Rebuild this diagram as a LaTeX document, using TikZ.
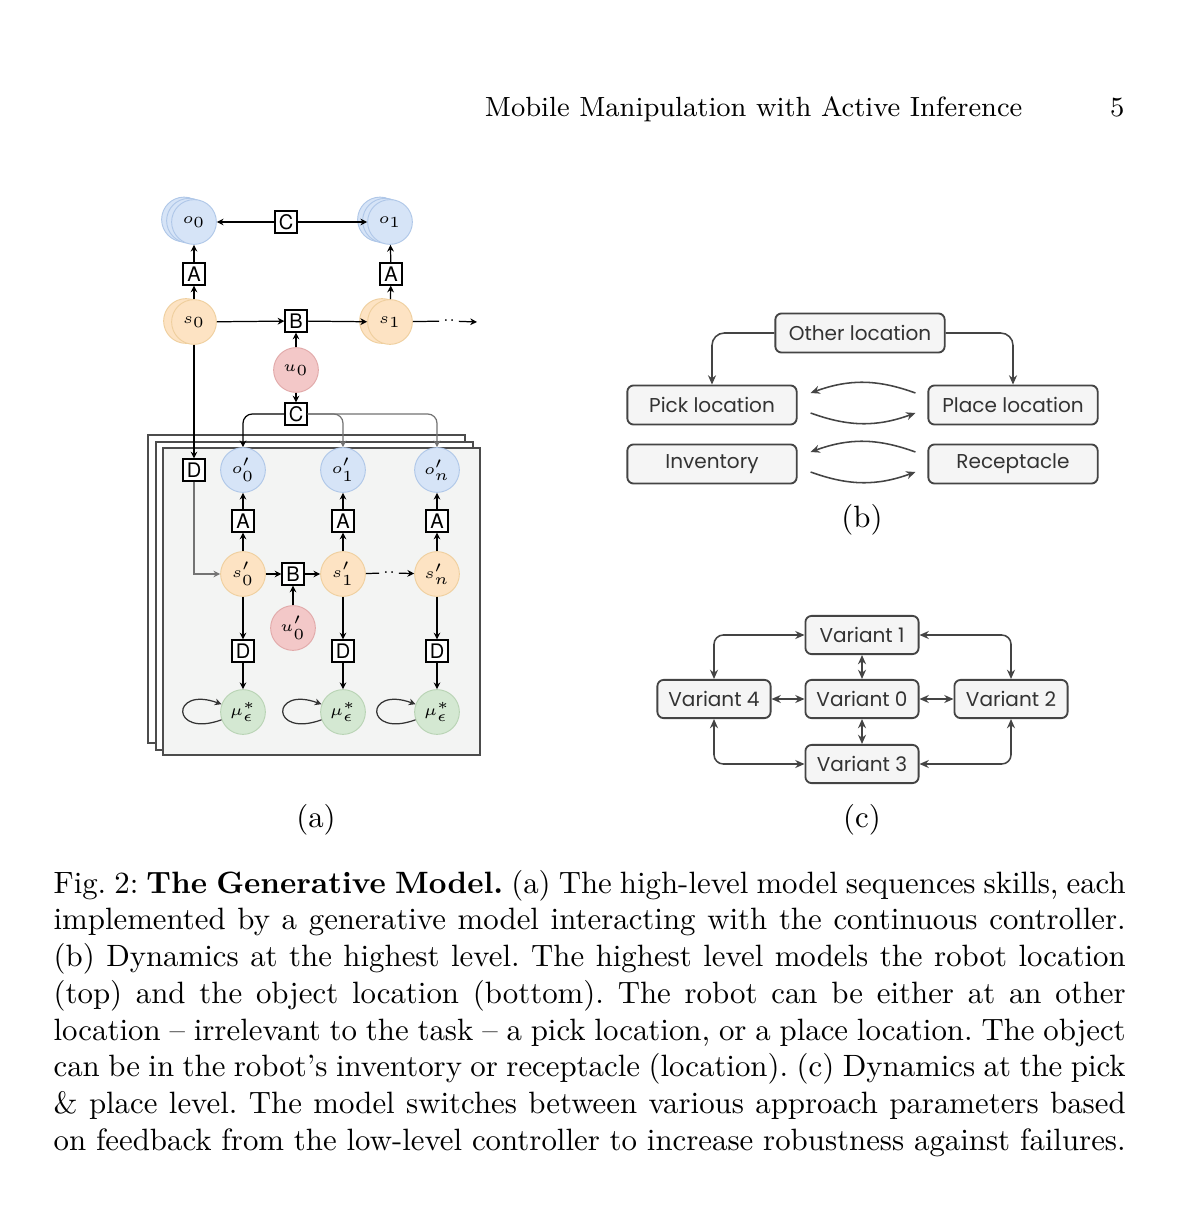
\documentclass[tikz,border=0pt]{standalone}
\usepackage{fontspec}
\setsansfont{TeX Gyre Heros}
\newfontfamily\popfont{Poppins}
\usetikzlibrary{arrows.meta}
\frenchspacing

\definecolor{obsblue}{HTML}{D6E4F7}
\definecolor{obsedge}{HTML}{AFC7E8}
\definecolor{hidorange}{HTML}{FDE3C3}
\definecolor{hidedge}{HTML}{EFCF9E}
\definecolor{actred}{HTML}{F3C8C8}
\definecolor{actedge}{HTML}{E1A9A9}
\definecolor{belgreen}{HTML}{D4E8D2}
\definecolor{beledge}{HTML}{B8D3B4}
\definecolor{panelgray}{HTML}{F3F4F3}
\definecolor{boxgray}{HTML}{F5F5F5}
\definecolor{linegray}{HTML}{444444}

\tikzset{
  var/.style={circle, minimum size=0.51cm, inner sep=0pt, font=\tiny, line width=0.3pt},
  obs/.style={var, fill=obsblue, draw=obsedge},
  hid/.style={var, fill=hidorange, draw=hidedge},
  act/.style={var, fill=actred, draw=actedge},
  bel/.style={var, fill=belgreen, draw=beledge},
  fac/.style={draw, fill=white, minimum size=0.25cm, inner sep=0pt, line width=0.4pt,
    font=\sffamily\fontsize{6.5}{7}\selectfont},
  lnk/.style={line width=0.4pt, -{Stealth[length=2.2pt,width=2.2pt]}},
  panel/.style={draw=black!70, line width=0.35pt, fill=white},
  loc/.style={draw=linegray, fill=boxgray, rounded corners=2pt, line width=0.6pt,
    text=black!80, font=\popfont\fontsize{6.5}{8}\selectfont, inner sep=0pt},
  place box/.style={loc, minimum width=1.93cm, minimum height=0.445cm},
  variant box/.style={loc, minimum width=1.29cm, minimum height=0.435cm},
  oneway/.style={draw=linegray, line width=0.5pt, -{Stealth[length=3pt,width=2.6pt]}},
  twoway/.style={draw=linegray, line width=0.5pt, rounded corners=3pt,
    {Stealth[length=3pt,width=2.6pt]}-{Stealth[length=3pt,width=2.6pt]}},
}

\begin{document}
\begin{tikzpicture}[x=0.0114cm, y=-0.0114cm]
  \fill[white] (0,0) rectangle (1200,1214);
  \useasboundingbox (0,0) rectangle (1200,1214);

  % running head
  \node[anchor=base east, font=\small, inner sep=0pt] (head) at (1023,117) {Mobile Manipulation with Active Inference};
  \node[anchor=base east, font=\small, inner sep=0pt] (page) at (1125,117) {5};

  % (a) high level
  \foreach \d in {10,5} {
    \node[obs] (o0b\d) at (194-\d,222-\d/4) {};
    \node[obs] (o1b\d) at (390-\d,222-\d/4) {};
  }
  \node[obs] (o0) at (194,222) {$o_0$};
  \node[obs] (o1) at (390,222) {$o_1$};
  \node[fac] (Ctop) at (286,222) {C};
  \node[fac] (A0) at (194,274) {A};
  \node[fac] (A1) at (391,274) {A};
  \node[hid] (s0b) at (186,321) {};
  \node[hid] (s1b) at (382,321) {};
  \node[hid] (s0) at (194,322) {$s_0$};
  \node[hid] (s1) at (390,322) {$s_1$};
  \node[fac] (B0) at (296,321) {B};
  \node[act] (u0) at (296,370) {$u_0$};
  \node[fac] (Clow) at (296,414) {C};
  \node[font=\tiny, inner sep=1pt] (dots) at (449,321) {..};
  \coordinate (dotsend) at (477,322);

  \draw[lnk] (Ctop) -- (o0);
  \draw[lnk] (Ctop) -- (o1);
  \draw[lnk] (s0) -- (A0);
  \draw[lnk] (A0) -- (o0);
  \draw[lnk] (s1) -- (A1);
  \draw[lnk] (A1) -- (o1);
  \draw[lnk] (s0) -- (B0);
  \draw[lnk] (B0) -- (s1);
  \draw[lnk] (u0) -- (B0);
  \draw[lnk] (u0) -- (Clow);
  \draw[line width=0.4pt] (s1) -- (dots);
  \draw[lnk] (dots) -- (dotsend);

  % (a) skill level
  \draw[panel] (148,435) rectangle (465,743);
  \draw[panel] (156,442) rectangle (473,750);
  \draw[panel, fill=panelgray] (163,448) rectangle (480,755);

  \node[fac] (D0) at (194,470) {D};
  \foreach \x/\idx in {243/0, 343/1, 437/n} {
    \node[obs] (op\idx) at (\x,470) {$o'_\idx$};
    \node[fac] (Ap\idx) at (\x,521) {A};
    \node[hid] (sp\idx) at (\x,574) {$s'_\idx$};
    \node[fac] (Dp\idx) at (\x,651) {D};
    \node[bel] (mu\idx) at (\x,712) {$\mu_\epsilon^*$};
    \draw[lnk] (sp\idx) -- (Ap\idx);
    \draw[lnk] (Ap\idx) -- (op\idx);
    \draw[lnk] (sp\idx) -- (Dp\idx);
    \draw[lnk] (Dp\idx) -- (mu\idx);
    \path (mu\idx) edge[lnk, draw=black!80, loop left, out=200, in=160, min distance=0.62cm] (mu\idx);
  }
  \node[fac] (Bp) at (293,574) {B};
  \node[act] (up0) at (293,628) {$u'_0$};
  \node[font=\tiny, inner sep=1pt] (dotsp) at (389,573) {..};

  \draw[lnk] (s0) -- (D0);
  \draw[lnk, black!55] (D0) |- (sp0);
  \draw[lnk, rounded corners=3pt] (Clow) -| (op0);
  \draw[lnk, black!55, rounded corners=3pt] (Clow) -| (op1);
  \draw[lnk, black!55, rounded corners=3pt] (Clow) -| (opn);
  \draw[lnk] (sp0) -- (Bp);
  \draw[lnk] (Bp) -- (sp1);
  \draw[lnk] (up0) -- (Bp);
  \draw[line width=0.4pt] (sp1) -- (dotsp);
  \draw[lnk] (dotsp) -- (spn);

  \node (capa) at (316,820) {(a)};

  % (b) highest level
  \node[place box] (other) at (860,333) {Other location};
  \node[place box] (pick) at (712,405) {Pick location};
  \node[place box] (place) at (1013,405) {Place location};
  \node[place box] (inv) at (712,464) {Inventory};
  \node[place box] (rec) at (1013,464) {Receptacle};
  \draw[oneway, rounded corners=4pt] (other) -| (pick);
  \draw[oneway, rounded corners=4pt] (other) -| (place);
  \draw[oneway] ([shift={(-12,-12)}]place.west) to[bend right=20] ([shift={(13,-12)}]pick.east);
  \draw[oneway] ([shift={(13,8)}]pick.east) to[bend right=20] ([shift={(-12,8)}]place.west);
  \draw[oneway] ([shift={(-12,-12)}]rec.west) to[bend right=20] ([shift={(13,-12)}]inv.east);
  \draw[oneway] ([shift={(13,8)}]inv.east) to[bend right=20] ([shift={(-12,8)}]rec.west);

  \node (capb) at (862,520) {(b)};

  % (c) pick & place level
  \node[variant box] (v1) at (862,635) {Variant 1};
  \node[variant box] (v4) at (714,699) {Variant 4};
  \node[variant box] (v0) at (862,699) {Variant 0};
  \node[variant box] (v2) at (1011,699) {Variant 2};
  \node[variant box] (v3) at (862,764) {Variant 3};
  \draw[twoway] (v1) -- (v0);
  \draw[twoway] (v4) -- (v0);
  \draw[twoway] (v0) -- (v2);
  \draw[twoway] (v0) -- (v3);
  \draw[twoway] (v1) -| (v4);
  \draw[twoway] (v1) -| (v2);
  \draw[twoway] (v3) -| (v4);
  \draw[twoway] (v3) -| (v2);

  \node (capc) at (862,820) {(c)};

  % caption
  \foreach \txt [count=\row] in {
    {Fig.~2: \textbf{The Generative Model.} (a) The high-level model sequences skills, each},
    {implemented by a generative model interacting with the continuous controller.},
    {(b) Dynamics at the highest level. The highest level models the robot location},
    {(top) and the object location (bottom). The robot can be either at an other},
    {location -- irrelevant to the task -- a pick location, or a place location. The object},
    {can be in the robot's inventory or receptacle (location). (c) Dynamics at the pick},
    {\& place level. The model switches between various approach parameters based},
    {on feedback from the low-level controller to increase robustness against failures.}}
    \node[anchor=base west, inner sep=0pt] (cap\row) at (53,{893+36.75*(\row-1)}) {\makebox[12.22cm][s]{\txt}};
\end{tikzpicture}
\end{document}
